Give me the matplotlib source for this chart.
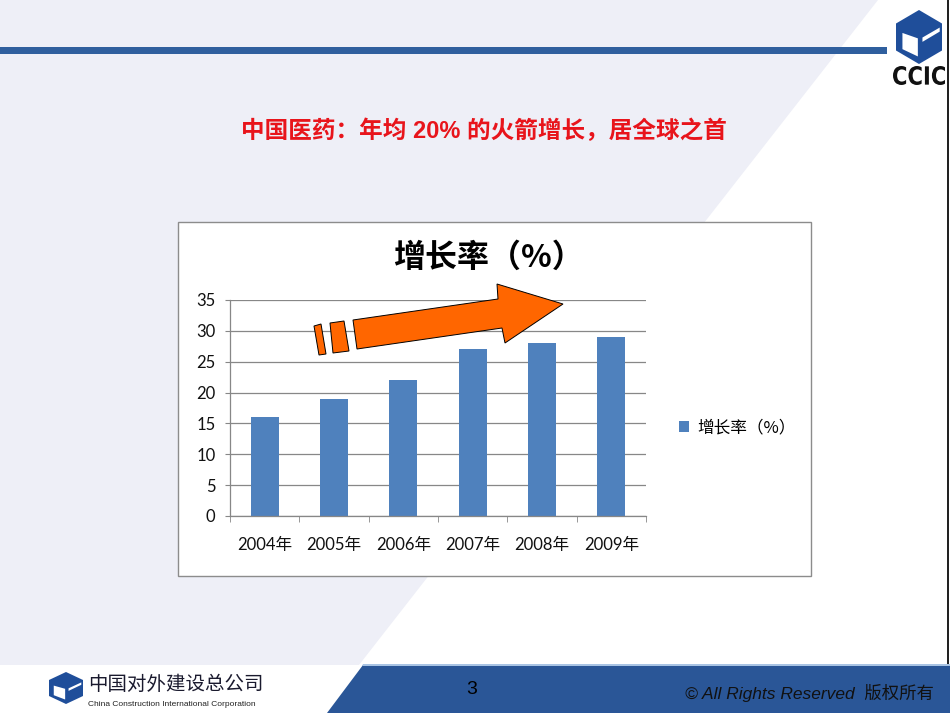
import matplotlib
matplotlib.use("Agg")
import matplotlib.pyplot as plt
from matplotlib.patches import Polygon, Rectangle, PathPatch
from matplotlib.textpath import TextPath
from matplotlib.font_manager import FontProperties
from matplotlib.transforms import Affine2D, IdentityTransform

years = ["2004年", "2005年", "2006年", "2007年", "2008年", "2009年"]
growth = [16, 19, 22, 27, 28, 29]
series_name = "增长率（%）"
slide_title = "中国医药：年均 20% 的火箭增长，居全球之首"

plt.rcParams['font.family'] = ['Lato', 'Noto Sans CJK SC', 'DejaVu Sans']

W, H = 950, 713
fig = plt.figure(figsize=(9.5, 7.13), dpi=100)
fig.patch.set_facecolor("white")


def px(x, y):
    # slide pixel (from top-left) -> figure fraction
    return (x / W, 1 - y / H)


def poly(points, **kw):
    p = Polygon([px(x, y) for x, y in points], closed=True,
                transform=fig.transFigure, **kw)
    fig.patches.append(p)
    return p


def cube(cx, cy, hw, hh, color):
    outer = [(cx, cy - hh), (cx + hw, cy - hh / 2), (cx + hw, cy + hh / 2),
             (cx, cy + hh), (cx - hw, cy + hh / 2), (cx - hw, cy - hh / 2)]
    poly(outer, facecolor=color, edgecolor="none", zorder=-3)
    # white left face
    t = 0.28
    inner = [(cx - hw * (1 - t), cy - hh * 0.5 + hh * 0.35),
             (cx - hw * 0.05, cy + hh * 0.05),
             (cx - hw * 0.05, cy + hh * (1 - t)),
             (cx - hw * (1 - t), cy + hh * 0.5 - hh * 0.05)]
    poly(inner, facecolor="white", edgecolor="none", zorder=-2)
    # thin white gap on the right face
    gap = [(cx + hw * 0.15, cy + hh * 0.02), (cx + hw * 0.9, cy - hh * 0.35),
           (cx + hw * 0.9, cy - hh * 0.2), (cx + hw * 0.15, cy + hh * 0.18)]
    poly(gap, facecolor="white", edgecolor="none", zorder=-2)


# slide background
poly([(0, 0), (878, 0), (359, 665), (0, 665)],
     facecolor="#EEEFF7", edgecolor="none", zorder=-6)
poly([(0, 47), (887, 47), (887, 54), (0, 54)],
     facecolor="#2F5F9E", edgecolor="none", zorder=-5)
poly([(363, 665), (W, 665), (W, H), (327, H)],
     facecolor="#2A5697", edgecolor="none", zorder=-5)
poly([(363, 664), (W, 664), (W, 666), (362, 666)],
     facecolor="#A9C4E4", edgecolor="none", zorder=-4)
poly([(947, 0), (949, 0), (949, 664), (947, 664)],
     facecolor="#222222", edgecolor="none", zorder=-4)

cube(919, 37, 23, 27, "#1F4E9A")

# condensed "CCIC" lettering
tp = TextPath((0, 0), "CCIC", size=20,
              prop=FontProperties(family="DejaVu Sans", weight="bold"))
bb = tp.get_extents()
sx = 52 / bb.width
sy = 19 / bb.height
tr = Affine2D().translate(-bb.x0, -bb.y0).scale(sx, sy).translate(893, H - 85)
fig.patches.append(PathPatch(tp, transform=tr + IdentityTransform(),
                             facecolor="#111111", edgecolor="none", zorder=-2))

cube(66, 688, 17, 16, "#1F4E9A")
fig.text(*px(88, 684), "中国对外建设总公司", ha="left", va="center",
         fontsize=14, family=["Noto Sans CJK SC"], fontweight="light",
         color="#1A1A2E")
fig.text(*px(88, 705), "China Construction International Corporation",
         ha="left", va="center", fontsize=6, family=["Liberation Sans"],
         color="#222222")

fig.text(*px(472, 689), "3", ha="center", va="center", fontsize=14,
         family=["Liberation Sans"], color="black")
fig.text(*px(685, 693), "© All Rights Reserved  版权所有", ha="left",
         va="center", fontsize=12.5, fontstyle="italic",
         family=["Liberation Sans", "Noto Sans CJK SC"], color="#111111")

fig.text(*px(484, 131), slide_title, ha="center", va="center", fontsize=17,
         fontweight="bold", family=["Liberation Sans", "Noto Sans CJK SC"],
         color="#E8141B")

# chart area box
fig.patches.append(Rectangle(px(178, 576), 633 / W, 354 / H,
                             transform=fig.transFigure, facecolor="white",
                             edgecolor="#8C8C8C", lw=1.0, zorder=-1))

fig.text(*px(488, 258), series_name, ha="center", va="center", fontsize=23,
         fontweight="bold", family=["Noto Sans CJK SC"], color="black")

ax = fig.add_axes([230 / W, 1 - 516 / H, 416 / W, 216 / H])
ax.set_facecolor("none")
ax.bar(range(len(years)), growth, width=0.4, color="#4F81BD",
       label=series_name, zorder=2)
ax.set_xlim(-0.5, len(years) - 0.5)
ax.set_ylim(0, 35)
ax.set_yticks(range(0, 36, 5))
ax.set_xticks(range(len(years)))
ax.set_xticklabels(years)
ax.set_xticks([i - 0.5 for i in range(len(years) + 1)], minor=True)
ax.yaxis.grid(True, color="#878787", lw=0.9)
ax.set_axisbelow(True)
for s in ["top", "right"]:
    ax.spines[s].set_visible(False)
for s in ["left", "bottom"]:
    ax.spines[s].set_color("#878787")
    ax.spines[s].set_linewidth(0.9)
ax.tick_params(axis="x", which="major", length=0, pad=15, labelsize=12,
               colors="#111111")
ax.tick_params(axis="x", which="minor", length=4, color="#878787",
               direction="out")
ax.tick_params(axis="y", length=3.5, color="#878787", pad=7, labelsize=12,
               labelcolor="#111111")

ax.legend(loc="center left", bbox_to_anchor=px(664, 428),
          bbox_transform=fig.transFigure, frameon=False,
          handlelength=0.6, handleheight=0.6, handletextpad=0.5,
          prop={"family": ["Noto Sans CJK SC"], "size": 12})

# rocket arrow
arrow_kw = dict(facecolor="#FF6600", edgecolor="black", lw=0.7, zorder=5)
poly([(353, 320), (498, 299), (497, 284), (563, 304), (505, 343),
      (502, 328), (357, 349)], **arrow_kw)
poly([(330, 323), (344, 321), (349, 351), (333, 353)], **arrow_kw)
poly([(314, 326), (321, 324), (326, 354), (319, 355)], **arrow_kw)

fig.savefig("out.png", dpi=100)
